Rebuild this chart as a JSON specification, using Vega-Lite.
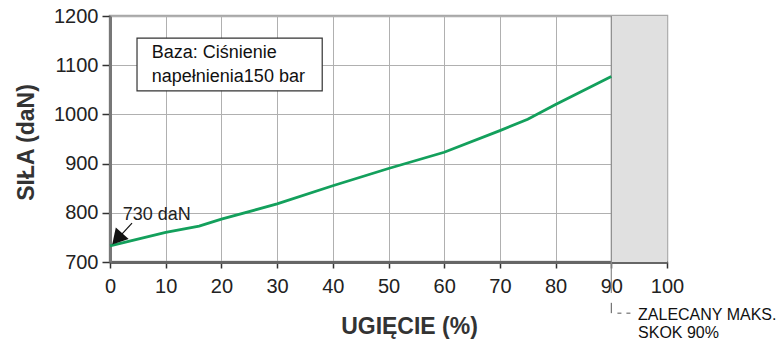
{
  "$schema": "https://vega.github.io/schema/vega-lite/v6.json",
  "width": 557,
  "height": 246,
  "autosize": {"type": "none"},
  "padding": {"left": 110, "top": 16, "right": 116, "bottom": 78},
  "background": "white",
  "config": {
    "font": "Liberation Sans",
    "view": {"stroke": "#a8a8a8", "strokeWidth": 2.5},
    "axis": {
      "labelFont": "Liberation Sans",
      "titleFont": "Liberation Sans",
      "labelFontSize": 20,
      "labelColor": "#222",
      "titleFontSize": 23,
      "titleFontWeight": "bold",
      "titleColor": "#333",
      "gridColor": "#b0b0b0",
      "gridWidth": 1,
      "gridOpacity": 1,
      "tickColor": "#333",
      "tickWidth": 1.5,
      "domainWidth": 3
    }
  },
  "datasets": {
    "curve": [
      {"x": 0, "y": 733},
      {"x": 10, "y": 760},
      {"x": 16, "y": 773},
      {"x": 20, "y": 787},
      {"x": 30, "y": 818},
      {"x": 40, "y": 855},
      {"x": 50, "y": 890},
      {"x": 60, "y": 923},
      {"x": 70, "y": 967},
      {"x": 75, "y": 990},
      {"x": 80, "y": 1020},
      {"x": 90, "y": 1077}
    ],
    "zone": [{"x": 90, "x2": 100, "y": 700, "y2": 1200}],
    "box": [{"x": 4.85, "x2": 38.1, "y": 1155, "y2": 1048}],
    "boxText": [
      {"x": 7.5, "y": 1114.6, "label": "Baza: Ciśnienie"},
      {"x": 7.5, "y": 1065.9, "label": "napełnienia150 bar"}
    ],
    "arrowLine": [{"x": 1.6, "y": 750, "x2": 3.95, "y2": 779}],
    "arrowHead": [{"x": 1.3, "y": 747}],
    "arrowText": [{"x": 2.3, "y": 785.4, "label": "730 daN"}],
    "limit": [{"x": 90, "y": 1200, "y2": 637}],
    "leaderV": [{"x": 90, "y": 617, "y2": 596}],
    "leaderH": [{"x": 91.1, "x2": 93.8, "y": 596}],
    "note": [
      {"x": 94.8, "y": 582, "label": "ZALECANY MAKS."},
      {"x": 94.8, "y": 545.5, "label": "SKOK 90%"}
    ]
  },
  "encoding": {
    "x": {
      "field": "x",
      "type": "quantitative",
      "scale": {"domain": [0, 100], "nice": false, "zero": false},
      "axis": {
        "title": "UGIĘCIE (%)",
        "values": [0, 10, 20, 30, 40, 50, 60, 70, 80, 90, 100],
        "format": "d",
        "domainColor": "#666",
        "tickSize": 6,
        "labelPadding": 8,
        "labelFlush": false,
        "titleX": 299,
        "titleY": 71,
        "titleBaseline": "alphabetic",
        "titleAlign": "center"
      }
    },
    "y": {
      "field": "y",
      "type": "quantitative",
      "scale": {"domain": [700, 1200], "nice": false, "zero": false},
      "axis": {
        "title": "SIŁA (daN)",
        "values": [700, 800, 900, 1000, 1100, 1200],
        "format": "d",
        "domainColor": "#777",
        "tickSize": 8,
        "labelPadding": 4,
        "labelFlush": false,
        "titleX": -77,
        "titleY": 126,
        "titleBaseline": "alphabetic",
        "titleAlign": "center"
      }
    }
  },
  "layer": [
    {
      "data": {"name": "zone"},
      "mark": {"type": "rect", "fill": "#e0e0e0"},
      "encoding": {"x2": {"field": "x2"}, "y2": {"field": "y2"}}
    },
    {
      "data": {"name": "limit"},
      "mark": {"type": "rule", "color": "#8a8a8a", "strokeWidth": 1.2, "clip": false},
      "encoding": {"y2": {"field": "y2"}}
    },
    {
      "data": {"name": "curve"},
      "mark": {"type": "line", "color": "#13a05c", "strokeWidth": 2.8}
    },
    {
      "data": {"name": "box"},
      "mark": {"type": "rect", "fill": "white", "stroke": "#333", "strokeWidth": 1.2},
      "encoding": {"x2": {"field": "x2"}, "y2": {"field": "y2"}}
    },
    {
      "data": {"name": "boxText"},
      "mark": {"type": "text", "align": "left", "baseline": "alphabetic", "fontSize": 18, "color": "#111", "font": "Liberation Sans"},
      "encoding": {"text": {"field": "label"}}
    },
    {
      "data": {"name": "arrowLine"},
      "mark": {"type": "rule", "color": "#111", "strokeWidth": 1.2},
      "encoding": {"x2": {"field": "x2"}, "y2": {"field": "y2"}}
    },
    {
      "data": {"name": "arrowHead"},
      "mark": {"type": "point", "shape": "triangle-up", "filled": true, "color": "#111", "opacity": 1, "size": 300, "angle": 222}
    },
    {
      "data": {"name": "arrowText"},
      "mark": {"type": "text", "align": "left", "baseline": "alphabetic", "fontSize": 18, "color": "#222", "font": "Liberation Sans"},
      "encoding": {"text": {"field": "label"}}
    },
    {
      "data": {"name": "leaderV"},
      "mark": {"type": "rule", "color": "#555", "strokeWidth": 1, "clip": false},
      "encoding": {"y2": {"field": "y2"}}
    },
    {
      "data": {"name": "leaderH"},
      "mark": {"type": "rule", "color": "#555", "strokeWidth": 1, "strokeDash": [4, 5], "clip": false},
      "encoding": {"x2": {"field": "x2"}}
    },
    {
      "data": {"name": "note"},
      "mark": {"type": "text", "align": "left", "baseline": "alphabetic", "fontSize": 16, "color": "#111", "font": "Liberation Sans"},
      "encoding": {"text": {"field": "label"}}
    }
  ]
}
